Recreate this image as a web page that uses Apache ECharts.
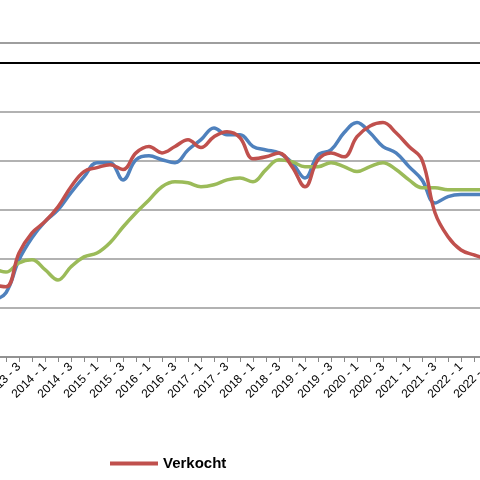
<!DOCTYPE html><html><head><meta charset="utf-8">
<script src="https://cdn.jsdelivr.net/npm/echarts@6/dist/echarts.min.js"></script>
<style>html,body{margin:0;padding:0;background:#fff}#c{width:480px;height:480px}</style></head><body><div id="c"></div>
<script>
const categories = [];
for (let y = 2013; y <= 2022; y++) for (let q = 1; q <= 4; q++) categories.push(y + ' - ' + q);
const verkocht = [1.47,1.43,2.12,2.53,2.76,3.06,3.47,3.78,3.86,3.92,3.82,4.16,4.29,4.16,4.29,4.43,4.27,4.49,4.59,4.47,4.04,4.08,4.16,3.88,3.47,4.02,4.16,4.08,4.49,4.71,4.78,4.57,4.29,4.02,2.94,2.45,2.18,2.08,2.0,1.95];
const opgelegd = [1.82,1.73,1.92,1.98,1.78,1.57,1.84,2.04,2.12,2.33,2.65,2.94,3.20,3.47,3.57,3.55,3.47,3.51,3.61,3.65,3.57,3.82,4.02,3.98,3.88,3.88,3.96,3.88,3.78,3.88,3.96,3.82,3.61,3.45,3.45,3.41,3.41,3.41,3.41,3.41];
const aangeboden = [1.16,1.31,1.98,2.43,2.76,3.00,3.35,3.67,3.96,3.96,3.61,4.02,4.10,4.02,3.96,4.22,4.43,4.67,4.53,4.53,4.29,4.22,4.16,3.96,3.65,4.12,4.22,4.57,4.78,4.57,4.29,4.16,3.88,3.61,3.14,3.27,3.31,3.31,3.31,3.31];
const chart = echarts.init(document.getElementById('c'));
const mk = (name, data, color, extra) => Object.assign({name, type:'line', data, smooth:0.4, symbol:'none',
  lineStyle:{color, width:3.5}, itemStyle:{color}}, extra||{});
chart.setOption({
  animation:false,
  grid:{left:-7, right:-20, top:43, bottom:123, containLabel:false, outerBoundsMode:'none'},
  legend:{left:105, top:451, itemGap:145, itemWidth:48, itemHeight:4, icon:'rect',
    textStyle:{fontFamily:'Liberation Sans, Arial', fontWeight:'bold', fontSize:15, color:'#000'},
    data:['Verkocht','Opgelegd','Aangeboden']},
  xAxis:{type:'category', data:categories, boundaryGap:false,
    axisLine:{lineStyle:{color:'#888', width:1.5}},
    axisTick:{interval:0, length:5, lineStyle:{color:'#888'}},
    axisLabel:{interval:1, rotate:45, fontSize:12, color:'#000', fontFamily:'Liberation Sans, Arial', margin:8}},
  yAxis:{type:'value', min:0, max:6.4, interval:1, axisLabel:{show:false}, axisLine:{show:false}, axisTick:{show:false},
    splitLine:{lineStyle:{color:'#999', width:1.5}}},
  series:[
    mk('Aangeboden', aangeboden, '#4F81BD', {z:2}),
    mk('Opgelegd', opgelegd, '#9BBB59', {z:3}),
    mk('Verkocht', verkocht, '#C0504D', {z:4, markLine:{silent:true, symbol:'none', label:{show:false},
      lineStyle:{color:'#000', width:2, type:'solid'}, data:[{yAxis:6},{yAxis:6.4, lineStyle:{color:'#999', width:1.5}}]}})
  ]
});
</script></body></html>
